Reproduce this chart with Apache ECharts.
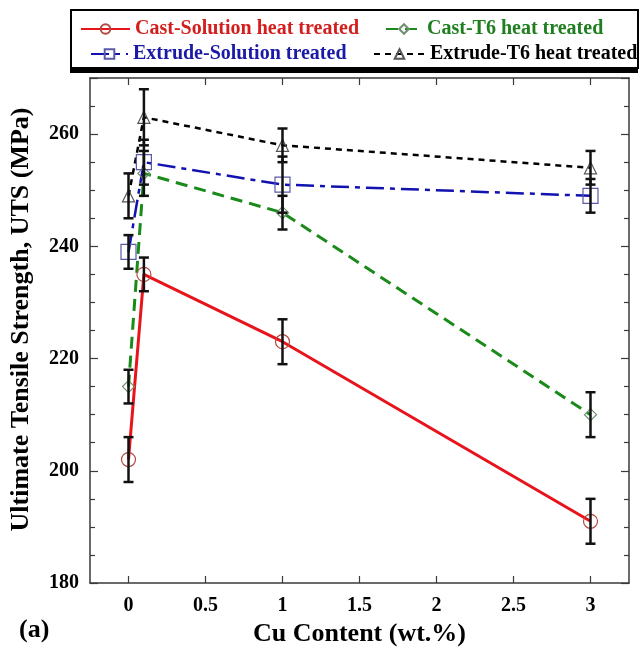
<!DOCTYPE html>
<html>
<head>
<meta charset="utf-8">
<script src="https://cdn.jsdelivr.net/npm/echarts@6/dist/echarts.min.js"></script>
<style>
  html, body { margin: 0; padding: 0; background: #fff; }
  #chart { width: 640px; height: 652px; }
</style>
</head>
<body>
<div id="chart"></div>
<script>
// Cu content (wt.%) of each sample
const cuContent = [0, 0.1, 1, 3];

// Ultimate tensile strength (MPa) and error half-widths
const castSolution = [202, 235, 223, 191];
const castSolutionErr = [4, 3, 4, 4];
const castT6 = [215, 253, 246, 210];
const castT6Err = [3, 4, 3, 4];
const extrudeSolution = [239, 255, 251, 249];
const extrudeSolutionErr = [3, 4, 5, 3];
const extrudeT6 = [249, 263, 258, 254];
const extrudeT6Err = [4, 5, 3, 3];

const xTicks = [0, 0.5, 1, 1.5, 2, 2.5, 3];
const seriesNames = [
  'Cast-Solution heat treated',
  'Cast-T6 heat treated',
  'Extrude-Solution treated',
  'Extrude-T6 heat treated'
];

const FONT = '"Liberation Serif", "Times New Roman", serif';
const AXIS_COLOR = '#3a3a3a';

function pts(vals) {
  return cuContent.map((x, i) => [x, vals[i]]);
}
function errPts(vals, errs) {
  return cuContent.map((x, i) => [x, vals[i] - errs[i], vals[i] + errs[i]]);
}

function errorBars(vals, errs) {
  return {
    type: 'custom',
    silent: true,
    z: 4,
    data: errPts(vals, errs),
    encode: { x: 0, y: [1, 2] },
    renderItem: function (params, api) {
      const x = api.value(0);
      const lo = api.coord([x, api.value(1)]);
      const hi = api.coord([x, api.value(2)]);
      const cap = 5;
      const style = { stroke: '#111', lineWidth: 2.5 };
      return {
        type: 'group',
        children: [
          { type: 'line', shape: { x1: lo[0], y1: lo[1], x2: hi[0], y2: hi[1] }, style: style },
          { type: 'line', shape: { x1: lo[0] - cap, y1: lo[1], x2: lo[0] + cap, y2: lo[1] }, style: style },
          { type: 'line', shape: { x1: hi[0] - cap, y1: hi[1], x2: hi[0] + cap, y2: hi[1] }, style: style }
        ]
      };
    }
  };
}

function lineSeries(name, vals, color, lineType, width, symbol, size, markColor) {
  return {
    name: name,
    type: 'line',
    data: pts(vals),
    z: 3,
    symbol: symbol,
    symbolSize: size,
    showAllSymbol: true,
    lineStyle: { color: color, width: width, type: lineType },
    itemStyle: { color: 'rgba(255,255,255,0)', borderColor: markColor, borderWidth: 1.2 },
    emphasis: { disabled: true },
    animation: false
  };
}

function legendAt(name, left, top, width, color) {
  return {
    data: [{ name: name, textStyle: { color: color } }],
    left: left,
    top: top,
    padding: 0,
    itemWidth: width,
    itemHeight: 12,
    selectedMode: false,
    textStyle: { fontFamily: FONT, fontWeight: 'bold', fontSize: 20, color: color }
  };
}

const chart = echarts.init(document.getElementById('chart'), null, { renderer: 'canvas' });

chart.setOption({
  animation: false,
  backgroundColor: '#fff',
  grid: { left: 89, right: 11, top: 78, bottom: 64, containLabel: false },
  legend: [
    legendAt(seriesNames[0], 80, 19, 49, '#d41e1e'),
    legendAt(seriesNames[1], 385, 19, 36, '#1f7f1f'),
    legendAt(seriesNames[2], 90, 44, 37, '#1a1aa6'),
    legendAt(seriesNames[3], 373, 44, 51, '#000')
  ],
  xAxis: [
    {
      type: 'value', min: -0.25, max: 3.25, position: 'bottom',
      axisLine: { show: true, onZero: false, lineStyle: { color: AXIS_COLOR, width: 1.5 } },
      axisTick: { show: true, inside: true, length: 7, customValues: xTicks, lineStyle: { color: AXIS_COLOR, width: 1.2 } },
      axisLabel: {
        customValues: xTicks, margin: 13,
        fontFamily: FONT, fontWeight: 'bold', fontSize: 20, color: '#000'
      },
      splitLine: { show: false },
      name: 'Cu Content (wt.%)', nameLocation: 'middle', nameGap: 38,
      nameTextStyle: { fontFamily: FONT, fontWeight: 'bold', fontSize: 26, color: '#000' }
    },
    {
      type: 'value', min: -0.25, max: 3.25, position: 'top',
      axisLine: { show: true, onZero: false, lineStyle: { color: AXIS_COLOR, width: 1.5 } },
      axisTick: { show: true, inside: true, length: 7, customValues: xTicks, lineStyle: { color: AXIS_COLOR, width: 1.2 } },
      axisLabel: { show: false },
      splitLine: { show: false }
    }
  ],
  yAxis: [
    {
      type: 'value', min: 180, max: 270, interval: 20, position: 'left',
      axisLine: { show: true, onZero: false, lineStyle: { color: AXIS_COLOR, width: 1.5 } },
      axisTick: { show: true, inside: true, length: 8, lineStyle: { color: AXIS_COLOR, width: 1.2 } },
      minorTick: { show: true, splitNumber: 4, length: 5, lineStyle: { color: AXIS_COLOR, width: 1.2 } },
      axisLabel: {
        margin: 11, showMaxLabel: false,
        fontFamily: FONT, fontWeight: 'bold', fontSize: 20, color: '#000'
      },
      splitLine: { show: false },
      name: 'Ultimate Tensile Strength, UTS (MPa)', nameLocation: 'middle', nameGap: 56,
      nameTextStyle: { fontFamily: FONT, fontWeight: 'bold', fontSize: 26, color: '#000', padding: [0, 0, 0, 22] }
    },
    {
      type: 'value', min: 180, max: 270, interval: 20, position: 'right',
      axisLine: { show: true, onZero: false, lineStyle: { color: AXIS_COLOR, width: 1.5 } },
      axisTick: { show: true, inside: true, length: 8, lineStyle: { color: AXIS_COLOR, width: 1.2 } },
      minorTick: { show: true, splitNumber: 4, length: 5, lineStyle: { color: AXIS_COLOR, width: 1.2 } },
      axisLabel: { show: false },
      splitLine: { show: false }
    }
  ],
  graphic: [
    // legend frame with drop shadow
    { type: 'rect', z: -2, shape: { x: 70, y: 15, width: 568, height: 58 }, style: { fill: '#000' } },
    { type: 'rect', z: -1, shape: { x: 71, y: 10, width: 567, height: 58 }, style: { fill: '#fff', stroke: '#000', lineWidth: 2 } },
    {
      type: 'text', left: 19, top: 617,
      style: { text: '(a)', font: 'bold 26px ' + FONT, fill: '#000' }
    }
  ],
  series: [
    lineSeries(seriesNames[0], castSolution, '#e8141c', 'solid', 3, 'circle', 14, '#b04a40'),
    lineSeries(seriesNames[1], castT6, '#1a8a1a', [12, 7], 3, 'diamond', 12, '#6f8f6f'),
    lineSeries(seriesNames[2], extrudeSolution, '#1212b0', [18, 6, 5, 6], 2.5, 'rect', 15, '#5a5aa8'),
    lineSeries(seriesNames[3], extrudeT6, '#000', [6, 5], 2.5, 'triangle', 12, '#555'),
    errorBars(castSolution, castSolutionErr),
    errorBars(castT6, castT6Err),
    errorBars(extrudeSolution, extrudeSolutionErr),
    errorBars(extrudeT6, extrudeT6Err)
  ]
});
</script>
</body>
</html>
